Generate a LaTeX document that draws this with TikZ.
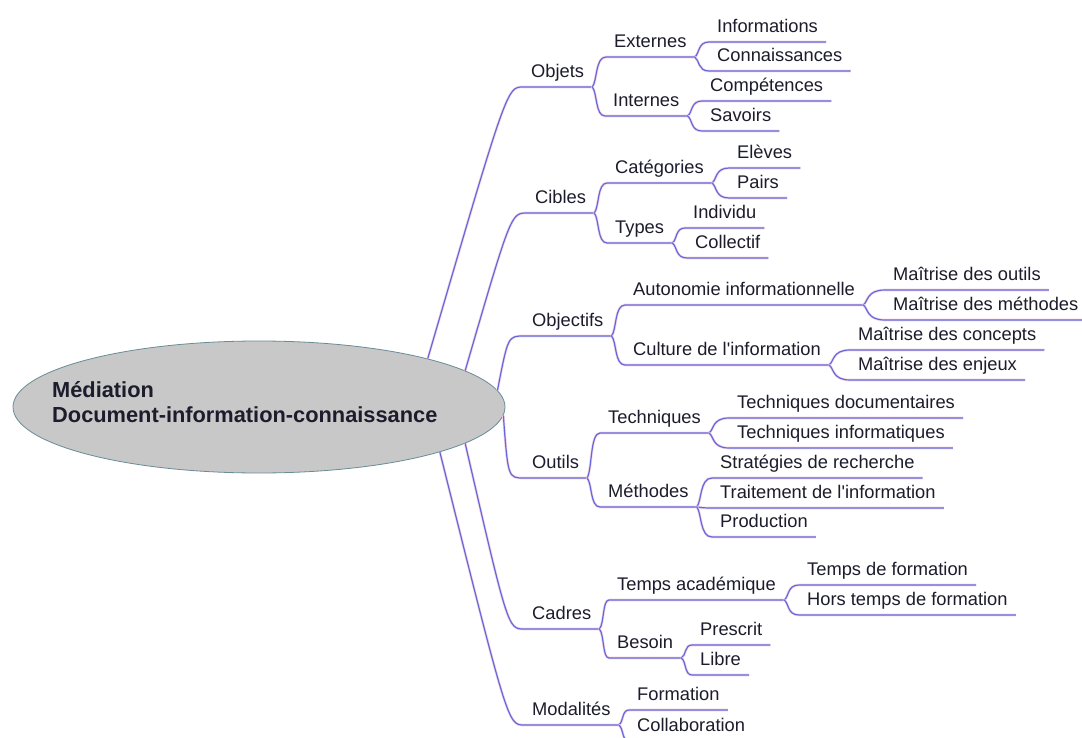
\documentclass[tikz,border=0pt]{standalone}
\usepackage{fontspec}
\setmainfont{Liberation Sans}
\usetikzlibrary{shapes.geometric,calc}
\definecolor{branch}{RGB}{102,104,218}
\definecolor{halo}{RGB}{242,214,232}
\definecolor{ink}{RGB}{28,28,44}
\definecolor{rootfill}{RGB}{200,200,200}
\definecolor{rootline}{RGB}{105,140,150}
\tikzset{
  root/.style={ellipse, draw=rootline, fill=rootfill, line width=0.8pt,
    minimum width=492pt, minimum height=132pt, inner sep=0pt},
  title/.style={anchor=west, inner sep=0pt, align=left, text=ink,
    font=\bfseries\fontsize{21.8}{25.5}\selectfont},
  item/.style={anchor=south west, inner xsep=8pt, inner ysep=9pt,
    text height=13pt, text depth=0pt, text=ink,
    font=\fontsize{18.3}{21}\selectfont},
  line/.style={draw=branch, line width=1.2pt,
    preaction={draw=halo, line width=2.6pt}},
  trunk/.style={to path={.. controls ([xshift=-16pt]\tikztotarget) .. (\tikztotarget)}},
  twig/.style={to path={.. controls ($(\tikztostart)!0.2!(\tikztostart |- \tikztotarget)+(5pt,0)$)
    and ($(\tikztostart |- \tikztotarget)+(3pt,0)$) .. (\tikztotarget)}}
}
\begin{document}
\begin{tikzpicture}[x=1pt,y=-1pt]
\path[use as bounding box,fill=white] (0,0) rectangle (1082,738);
\node[root] (root) at (259,407) {};
\node[title] (titre) at (52,402) {Médiation\\Document-information-connaissance};

\node[item] (objets) at (523,87) {Objets};
\node[item] (externes) at (606,57) {Externes};
\node[item] (internes) at (605,116) {Internes};
\node[item] (informations) at (709,42) {Informations};
\node[item] (connaissances) at (709,71) {Connaissances};
\node[item] (competences) at (702,101) {Compétences};
\node[item] (savoirs) at (702,131) {Savoirs};

\node[item] (cibles) at (527,213) {Cibles};
\node[item] (categories) at (607,183) {Catégories};
\node[item] (types) at (607,243) {Types};
\node[item] (eleves) at (729,168) {Elèves};
\node[item] (pairs) at (729,198) {Pairs};
\node[item] (individu) at (685,228) {Individu};
\node[item] (collectif) at (687,258) {Collectif};

\node[item] (objectifs) at (524,336) {Objectifs};
\node[item] (autonomie) at (625,305) {Autonomie informationnelle};
\node[item] (culture) at (625,365) {Culture de l\textquotesingle information};
\node[item] (moutils) at (885,290) {Maîtrise des outils};
\node[item] (mmethodes) at (885,320) {Maîtrise des méthodes};
\node[item] (mconcepts) at (850,350) {Maîtrise des concepts};
\node[item] (menjeux) at (850,380) {Maîtrise des enjeux};

\node[item] (outils) at (524,478) {Outils};
\node[item] (techniques) at (600,433) {Techniques};
\node[item] (methodes) at (600,507) {Méthodes};
\node[item] (techdoc) at (729,418) {Techniques documentaires};
\node[item] (techinfo) at (729,448) {Techniques informatiques};
\node[item] (strategies) at (712,478) {Stratégies de recherche};
\node[item] (traitement) at (712,508) {Traitement de l\textquotesingle information};
\node[item] (production) at (712,537) {Production};

\node[item] (cadres) at (524,629) {Cadres};
\node[item] (tempsacad) at (609,600) {Temps académique};
\node[item] (besoin) at (609,658) {Besoin};
\node[item] (tempsform) at (799,585) {Temps de formation};
\node[item] (horstemps) at (799,615) {Hors temps de formation};
\node[item] (prescrit) at (692,645) {Prescrit};
\node[item] (libre) at (692,675) {Libre};

\node[item] (modalites) at (524,725) {Modalités};
\node[item] (formation) at (629,710) {Formation};
\node[item] (collaboration) at (629,741) {Collaboration};

\foreach \b/\ang in {objets/16,cibles/10,objectifs/4,outils/-2,cadres/-10,modalites/-14}
\draw[line,trunk] (root.\ang) to (\b.south west) -- (\b.south east);

\foreach \a/\b in {objets/externes,objets/internes,externes/informations,
  externes/connaissances,internes/competences,internes/savoirs,
  cibles/categories,cibles/types,categories/eleves,categories/pairs,
  types/individu,types/collectif,
  objectifs/autonomie,objectifs/culture,autonomie/moutils,autonomie/mmethodes,
  culture/mconcepts,culture/menjeux,
  outils/techniques,outils/methodes,techniques/techdoc,techniques/techinfo,
  methodes/strategies,methodes/traitement,methodes/production,
  cadres/tempsacad,cadres/besoin,tempsacad/tempsform,tempsacad/horstemps,
  besoin/prescrit,besoin/libre,
  modalites/formation,modalites/collaboration}
\draw[line,twig] (\a.south east) to (\b.south west) -- (\b.south east);
\end{tikzpicture}
\end{document}
